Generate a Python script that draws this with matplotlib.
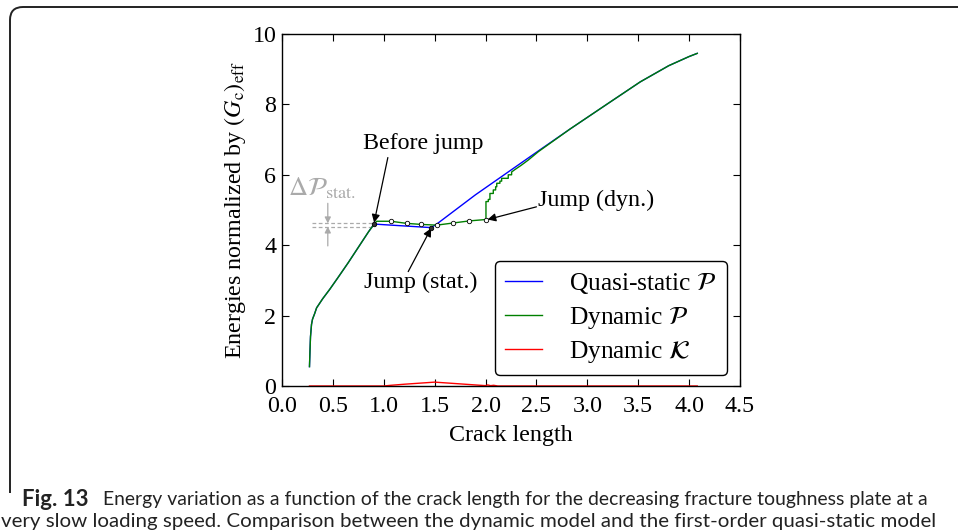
import matplotlib
matplotlib.use("Agg")
import matplotlib.pyplot as plt
from matplotlib.patches import FancyBboxPatch
from matplotlib.transforms import IdentityTransform, Bbox

plt.rcParams['font.family'] = ['Liberation Serif', 'DejaVu Serif']
plt.rcParams['mathtext.fontset'] = 'stix'

# ---------------- data ----------------
# shared loading branch (before jump)
pre_x = [0.27, 0.275, 0.28, 0.29, 0.30, 0.32, 0.34, 0.40, 0.47, 0.55, 0.65, 0.75, 0.85, 0.905]
pre_y = [0.55, 1.00, 1.40, 1.75, 1.90, 2.05, 2.22, 2.48, 2.75, 3.08, 3.50, 3.94, 4.38, 4.60]

# quasi-static P after the loading branch
qs_x = [0.905, 1.465, 1.52, 1.90, 2.52, 2.83, 3.20, 3.52, 3.80, 4.00, 4.08]
qs_y = [4.60, 4.50, 4.60, 5.43, 6.68, 7.30, 8.02, 8.64, 9.10, 9.36, 9.45]

# dynamic P after the loading branch
dyn_x = [0.905, 0.93, 1.07, 1.225, 1.37, 1.52, 1.68, 1.84, 2.004, 2.004, 2.027, 2.027,
         2.043, 2.043, 2.076, 2.076, 2.099, 2.099, 2.11, 2.11, 2.141, 2.141, 2.158,
         2.158, 2.223, 2.223, 2.256, 2.256, 2.289, 2.35, 2.42, 2.52, 2.83, 3.20,
         3.52, 3.80, 4.00, 4.08]
dyn_y = [4.60, 4.68, 4.68, 4.62, 4.59, 4.57, 4.63, 4.69, 4.73, 5.24, 5.24, 5.30,
         5.30, 5.47, 5.47, 5.57, 5.57, 5.66, 5.66, 5.76, 5.76, 5.82, 5.82,
         5.90, 5.90, 6.00, 6.00, 6.08, 6.15, 6.27, 6.42, 6.66, 7.30, 8.02,
         8.64, 9.10, 9.36, 9.45]

# open markers on the dynamic path
mk_x = [1.07, 1.225, 1.37, 1.52, 1.68, 1.84, 2.004]
mk_y = [4.68, 4.62, 4.59, 4.57, 4.63, 4.69, 4.73]
# filled markers: before jump / jump (stat.)
fm_x = [0.905, 1.465]
fm_y = [4.60, 4.50]

# dynamic kinetic energy K
kin_x = [0.27, 1.00, 1.07, 1.20, 1.35, 1.50, 1.65, 1.80, 2.00, 2.02, 2.05, 2.08, 2.12, 2.20, 4.08]
kin_y = [0.0, 0.0, 0.02, 0.05, 0.08, 0.11, 0.08, 0.05, 0.01, 0.03, 0.01, 0.02, 0.0, 0.0, 0.0]

# ΔP_stat levels
dp_levels = [4.62, 4.53]

x_ticks = [0.0, 0.5, 1.0, 1.5, 2.0, 2.5, 3.0, 3.5, 4.0, 4.5]
y_ticks = [0, 2, 4, 6, 8, 10]

W, H = 958, 532
fig = plt.figure(figsize=(W / 100, H / 100), dpi=100)
ax = fig.add_axes([282 / W, 1 - 386 / H, (740 - 282) / W, (386 - 34) / H])

fs = 17.3
ax.plot(pre_x + qs_x[1:], pre_y + qs_y[1:], color='b', lw=1.0, label=r'Quasi-static $\mathcal{P}$', zorder=2)
ax.plot(pre_x + dyn_x[1:], pre_y + dyn_y[1:], color='g', lw=1.0, label=r'Dynamic $\mathcal{P}$', zorder=3)
ax.plot(kin_x, kin_y, color='r', lw=1.0, label=r'Dynamic $\mathcal{K}$', zorder=2)
ax.plot(mk_x, mk_y, ls='none', marker='o', ms=3.2, mfc='white', mec='k', mew=0.6, zorder=4)
ax.plot(fm_x, fm_y, ls='none', marker='o', ms=3.2, mfc='#333333', mec='k', mew=0.6, zorder=4)

# delta P annotation (grey)
grey = '#aaaaaa'
for lv in dp_levels:
    ax.plot([0.29, 0.90], [lv, lv], color=grey, lw=0.9, ls=(0, (3, 2)), zorder=1)
ax.annotate('', xy=(0.45, dp_levels[0]), xytext=(0.45, 5.19),
            arrowprops=dict(arrowstyle='-|>', color=grey, lw=0.9, shrinkA=0, shrinkB=0, mutation_scale=9))
ax.annotate('', xy=(0.45, dp_levels[1]), xytext=(0.45, 3.98),
            arrowprops=dict(arrowstyle='-|>', color=grey, lw=0.9, shrinkA=0, shrinkB=0, mutation_scale=9))
ax.text(0.393, 5.63, r'$\Delta\mathcal{P}_{\rm stat.}$', color=grey, fontsize=19, ha='center', va='center')

# labelled arrows
ak = dict(arrowstyle='-|>', color='k', lw=0.9, shrinkA=0, shrinkB=0, mutation_scale=12)
ax.annotate('', xy=(0.905, 4.64), xytext=(1.04, 6.49), arrowprops=ak)
ax.text(1.385, 6.9, 'Before jump', fontsize=fs, ha='center', va='center')
ax.annotate('', xy=(1.465, 4.48), xytext=(1.24, 3.25), arrowprops=ak)
ax.text(1.365, 2.95, 'Jump (stat.)', fontsize=fs, ha='center', va='center')
ax.annotate('', xy=(2.02, 4.73), xytext=(2.5, 5.09), arrowprops=ak)
ax.text(2.515, 5.28, 'Jump (dyn.)', fontsize=fs, ha='left', va='center')

ax.set_xlim(0, 4.5)
ax.set_ylim(0, 10)
ax.set_xticks(x_ticks)
ax.set_xticklabels([f'{v:.1f}' for v in x_ticks])
ax.set_yticks(y_ticks)
ax.set_yticklabels([str(v) for v in y_ticks])
ax.tick_params(direction='in', top=True, right=True, length=5, width=0.8, labelsize=fs)
ax.tick_params(axis='x', pad=7)
ax.tick_params(axis='y', pad=4)
for s in ax.spines.values():
    s.set_linewidth(1.0)
ax.set_xlabel('Crack length', fontsize=fs, labelpad=6)
ax.set_ylabel(r'Energies normalized by $(G_{\rm c})_{\rm eff}$', fontsize=fs, labelpad=3)

leg = ax.legend(loc='lower right', bbox_to_anchor=(0.972, 0.031), borderaxespad=0,
                fontsize=18.3, frameon=True, fancybox=True, edgecolor='k', framealpha=1,
                handlelength=1.45, handletextpad=1.1, labelspacing=0.33, borderpad=0.4)
leg.get_frame().set_linewidth(1.0)
for l in leg.get_lines():
    l.set_linewidth(1.0)

# outer rounded frame (only top and left sides visible)
frame = FancyBboxPatch((10, -200), 1200, 200 + H - 7, boxstyle='round,pad=0,rounding_size=13',
                       transform=IdentityTransform(), fill=False, edgecolor='#222222', lw=1.4)
frame.set_clip_box(Bbox([[0, H - 493], [W + 50, H + 50]]))
frame.set_clip_on(True)
fig.patches.append(frame)

# caption
cap_font = ['Lato', 'DejaVu Sans']
t_bold = fig.text(22 / W, 1 - 500 / H, 'Fig. 13', fontsize=12, fontweight='bold',
                  family=cap_font, ha='left', va='center', color='#222222')
t1 = fig.text(103 / W, 1 - 500 / H,
              'Energy variation as a function of the crack length for the decreasing fracture toughness plate at a',
              fontsize=12, family=cap_font, ha='left', va='center', color='#222222')
t2 = fig.text(1 / W, 1 - 521 / H,
              'very slow loading speed. Comparison between the dynamic model and the first-order quasi-static model',
              fontsize=12, family=cap_font, ha='left', va='center', color='#222222')
fig.canvas.draw()
r = fig.canvas.get_renderer()
for t, target in [(t_bold, 66), (t1, 822), (t2, 930)]:
    w = t.get_window_extent(r).width
    t.set_fontsize(12 * target / w)

fig.savefig('out.png', dpi=100)
